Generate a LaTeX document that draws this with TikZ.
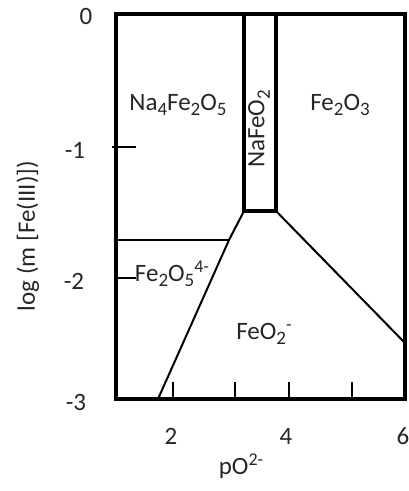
\documentclass[tikz,border=0pt]{standalone}
\usepackage{fontspec}
\setmainfont{Carlito}
\newcommand{\mysub}[1]{\raisebox{-0.45ex}{\fontsize{19}{20}\selectfont #1}}
\newcommand{\mysup}[1]{\raisebox{0.75ex}{\fontsize{18}{20}\selectfont #1}}
\begin{document}
\begin{tikzpicture}[x=1pt,y=-1pt,
  frame/.style={line width=4pt, line join=miter},
  col/.style={line width=3.5pt},
  thin/.style={line width=2pt},
  tick/.style={line width=2.8pt},
  lbl/.style={font=\fontsize{25}{30}\selectfont, inner sep=0pt, text=black!85},
  axlbl/.style={font=\fontsize{25}{30}\selectfont, inner sep=0pt, text=black!85}]
\useasboundingbox (0,0) rectangle (409,491);
% frame
\coordinate (TL) at (116,14);
\coordinate (BR) at (405,399);
\draw[frame] (TL) rectangle (BR);
% NaFeO2 column
\coordinate (c1) at (244,14);
\coordinate (c2) at (244,211);
\coordinate (c3) at (276,211);
\coordinate (c4) at (276,14);
\draw[col] (c1) -- (c2) -- (c3) -- (c4);
% boundaries
\coordinate (h0) at (116,240);
\coordinate (h1) at (229,240);
\coordinate (d0) at (158,399);
\coordinate (r1) at (405,343);
\draw[thin] (h0) -- (h1);
\draw[thin] (c2) -- (h1) -- (d0);
\draw[thin] (c3) -- (r1);
% y ticks
\coordinate (ya1) at (112,147); \coordinate (yb1) at (136,147);
\coordinate (ya2) at (116,278); \coordinate (yb2) at (136,278);
\draw[tick] (ya1) -- (yb1);
\draw[tick] (ya2) -- (yb2);
% x ticks
\foreach \x [count=\i] in {173,235,289,352}{
  \coordinate (xa\i) at (\x,382); \coordinate (xb\i) at (\x,399);
  \draw[tick] (xa\i) -- (xb\i);
}
% tick labels
\node[axlbl] (y0) at (86,16) {0};
\node[axlbl] (y1) at (75,150) {-1};
\node[axlbl] (y2) at (74,281) {-2};
\node[axlbl] (y3) at (76,402) {-3};
\node[axlbl] (x2) at (171,436) {2};
\node[axlbl] (x4) at (286,436) {4};
\node[axlbl] (x6) at (403,436) {6};
% axis titles
\node[axlbl, rotate=90] (ytitle) at (28,236) {log (m [Fe(III)])};
\node[axlbl] (xtitle) at (241,466) {pO\mysup{2-}};
% region labels
\node[lbl] (na4) at (178,105) {Na\mysub{4}Fe\mysub{2}O\mysub{5}};
\node[lbl, rotate=90] (nafe) at (259,129) {NaFeO\mysub{2}};
\node[lbl] (fe2o3) at (340,105) {Fe\mysub{2}O\mysub{3}};
\node[lbl] (fe2o5) at (172,274) {Fe\mysub{2}O\mysub{5}\mysup{4-}};
\node[lbl] (feo2) at (264,334) {FeO\mysub{2}\mysup{-}};
\end{tikzpicture}
\end{document}
